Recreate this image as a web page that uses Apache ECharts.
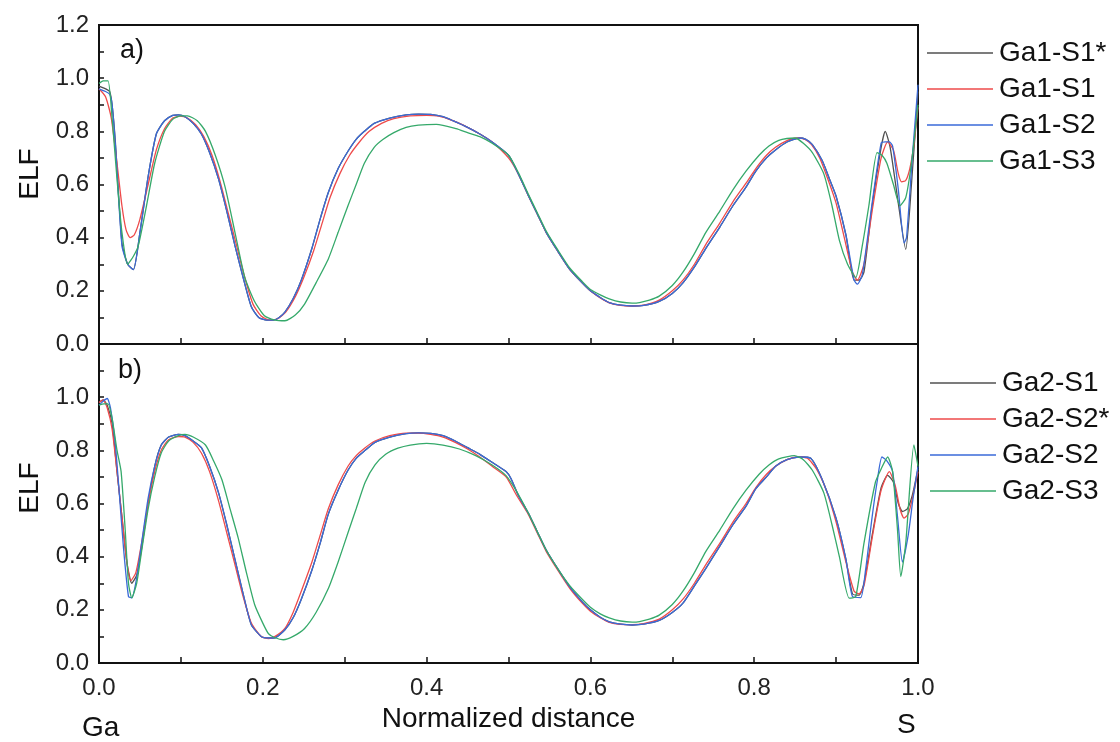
<!DOCTYPE html>
<html>
<head>
<meta charset="utf-8">
<script src="https://cdn.jsdelivr.net/npm/echarts@6/dist/echarts.min.js"></script>
<style>
  html, body { margin: 0; padding: 0; background: #fff; }
  #chart { width: 1120px; height: 742px; }
</style>
</head>
<body>
<div id="chart"></div>
<script>
// ELF profiles along the normalized Ga-S distance, panel a) and b)

const xTicks = [0, 0.2, 0.4, 0.6, 0.8, 1.0];
const namesTop = ['Ga1-S1*', 'Ga1-S1', 'Ga1-S2', 'Ga1-S3'];
const namesBottom = ['Ga2-S1', 'Ga2-S2*', 'Ga2-S2', 'Ga2-S3'];

// panel a)
const ga1S1star = [[0,0.97],[0.008,0.96],[0.013,0.95],[0.016,0.90],[0.02,0.76],[0.028,0.38],[0.035,0.30],[0.042,0.28],[0.05,0.42],[0.06,0.63],[0.07,0.79],[0.08,0.84],[0.09,0.86],[0.097,0.862],[0.105,0.855],[0.115,0.83],[0.125,0.79],[0.135,0.72],[0.146,0.62],[0.156,0.50],[0.166,0.37],[0.176,0.25],[0.186,0.14],[0.195,0.10],[0.205,0.09],[0.213,0.09],[0.22,0.10],[0.227,0.12],[0.237,0.17],[0.247,0.24],[0.26,0.36],[0.27,0.47],[0.28,0.57],[0.292,0.66],[0.304,0.725],[0.314,0.77],[0.324,0.80],[0.336,0.83],[0.355,0.85],[0.375,0.862],[0.39,0.865],[0.405,0.864],[0.42,0.855],[0.432,0.84],[0.45,0.815],[0.465,0.79],[0.48,0.76],[0.5,0.71],[0.512,0.64],[0.524,0.56],[0.535,0.49],[0.546,0.42],[0.56,0.35],[0.575,0.28],[0.59,0.23],[0.6,0.20],[0.612,0.175],[0.623,0.156],[0.637,0.146],[0.651,0.143],[0.665,0.145],[0.684,0.16],[0.7,0.19],[0.713,0.23],[0.727,0.29],[0.741,0.36],[0.758,0.44],[0.774,0.52],[0.79,0.59],[0.802,0.65],[0.815,0.70],[0.826,0.73],[0.84,0.76],[0.855,0.775],[0.863,0.77],[0.871,0.75],[0.883,0.69],[0.892,0.62],[0.9,0.556],[0.912,0.41],[0.922,0.24],[0.928,0.24],[0.934,0.27],[0.944,0.52],[0.955,0.74],[0.96,0.80],[0.966,0.74],[0.975,0.55],[0.985,0.356],[0.992,0.60],[1.0,0.95]];
const ga1S1 = [[0,0.96],[0.008,0.93],[0.015,0.85],[0.022,0.68],[0.028,0.52],[0.033,0.43],[0.038,0.40],[0.043,0.41],[0.05,0.47],[0.06,0.60],[0.07,0.73],[0.08,0.81],[0.09,0.85],[0.099,0.857],[0.108,0.85],[0.118,0.825],[0.128,0.78],[0.138,0.71],[0.148,0.61],[0.158,0.49],[0.168,0.37],[0.178,0.25],[0.188,0.15],[0.198,0.105],[0.208,0.09],[0.218,0.095],[0.228,0.12],[0.24,0.18],[0.25,0.25],[0.262,0.35],[0.272,0.45],[0.282,0.55],[0.294,0.64],[0.306,0.71],[0.318,0.76],[0.33,0.80],[0.345,0.83],[0.36,0.848],[0.38,0.858],[0.4,0.86],[0.415,0.857],[0.432,0.84],[0.45,0.815],[0.465,0.79],[0.48,0.76],[0.5,0.70],[0.512,0.64],[0.524,0.56],[0.535,0.49],[0.546,0.42],[0.56,0.35],[0.575,0.28],[0.59,0.23],[0.6,0.20],[0.612,0.173],[0.623,0.155],[0.637,0.145],[0.651,0.143],[0.665,0.146],[0.684,0.165],[0.7,0.20],[0.713,0.24],[0.727,0.30],[0.741,0.375],[0.758,0.455],[0.774,0.535],[0.79,0.605],[0.802,0.66],[0.815,0.71],[0.826,0.74],[0.84,0.765],[0.852,0.775],[0.862,0.77],[0.87,0.75],[0.88,0.70],[0.89,0.62],[0.9,0.53],[0.91,0.40],[0.92,0.27],[0.926,0.24],[0.934,0.30],[0.944,0.50],[0.955,0.70],[0.963,0.76],[0.97,0.73],[0.976,0.64],[0.98,0.61],[0.985,0.615],[0.99,0.66],[0.995,0.75],[1.0,0.89]];
const ga1S2 = [[0,0.96],[0.008,0.95],[0.013,0.94],[0.016,0.90],[0.02,0.75],[0.028,0.37],[0.035,0.30],[0.042,0.28],[0.05,0.42],[0.06,0.63],[0.07,0.79],[0.08,0.84],[0.09,0.86],[0.097,0.862],[0.105,0.855],[0.115,0.83],[0.125,0.79],[0.135,0.72],[0.146,0.62],[0.156,0.50],[0.166,0.37],[0.176,0.25],[0.186,0.14],[0.195,0.10],[0.205,0.09],[0.213,0.09],[0.22,0.10],[0.227,0.12],[0.237,0.17],[0.247,0.24],[0.26,0.36],[0.27,0.47],[0.28,0.57],[0.292,0.66],[0.304,0.725],[0.314,0.77],[0.324,0.80],[0.336,0.83],[0.355,0.85],[0.375,0.862],[0.39,0.865],[0.405,0.864],[0.42,0.855],[0.432,0.84],[0.45,0.815],[0.465,0.79],[0.48,0.76],[0.5,0.71],[0.512,0.64],[0.524,0.56],[0.535,0.49],[0.546,0.42],[0.56,0.35],[0.575,0.28],[0.59,0.23],[0.6,0.20],[0.612,0.175],[0.623,0.156],[0.637,0.146],[0.651,0.143],[0.665,0.145],[0.684,0.16],[0.7,0.19],[0.713,0.23],[0.727,0.29],[0.741,0.36],[0.758,0.44],[0.774,0.52],[0.79,0.59],[0.802,0.65],[0.815,0.70],[0.826,0.73],[0.84,0.76],[0.855,0.775],[0.863,0.77],[0.871,0.75],[0.883,0.69],[0.892,0.62],[0.9,0.556],[0.912,0.41],[0.922,0.24],[0.926,0.225],[0.932,0.26],[0.944,0.53],[0.955,0.756],[0.96,0.76],[0.965,0.76],[0.969,0.744],[0.976,0.58],[0.983,0.38],[0.986,0.40],[0.993,0.70],[1.0,0.975]];
const ga1S3 = [[0,0.98],[0.005,0.99],[0.011,0.99],[0.016,0.85],[0.022,0.62],[0.028,0.42],[0.035,0.30],[0.042,0.33],[0.048,0.37],[0.058,0.52],[0.068,0.68],[0.08,0.80],[0.09,0.845],[0.1,0.858],[0.108,0.858],[0.12,0.84],[0.13,0.80],[0.142,0.71],[0.154,0.59],[0.166,0.42],[0.178,0.25],[0.19,0.16],[0.202,0.106],[0.215,0.09],[0.227,0.0875],[0.24,0.11],[0.251,0.15],[0.265,0.23],[0.28,0.32],[0.292,0.42],[0.304,0.52],[0.314,0.60],[0.324,0.68],[0.336,0.74],[0.347,0.77],[0.36,0.795],[0.375,0.815],[0.39,0.823],[0.412,0.826],[0.436,0.81],[0.45,0.795],[0.465,0.78],[0.48,0.755],[0.5,0.71],[0.512,0.645],[0.524,0.565],[0.535,0.495],[0.546,0.425],[0.56,0.355],[0.575,0.285],[0.59,0.235],[0.6,0.205],[0.612,0.185],[0.623,0.17],[0.637,0.158],[0.651,0.154],[0.66,0.156],[0.672,0.165],[0.684,0.18],[0.7,0.22],[0.713,0.27],[0.727,0.34],[0.741,0.42],[0.758,0.50],[0.774,0.58],[0.79,0.65],[0.806,0.71],[0.818,0.745],[0.83,0.766],[0.84,0.773],[0.85,0.775],[0.86,0.755],[0.871,0.72],[0.885,0.64],[0.895,0.52],[0.904,0.39],[0.914,0.30],[0.924,0.25],[0.932,0.37],[0.94,0.52],[0.95,0.72],[0.956,0.71],[0.962,0.68],[0.97,0.60],[0.978,0.52],[0.985,0.55],[0.992,0.68],[1.0,0.90]];

// panel b)
const ga2S1 = [[0,0.98],[0.005,0.99],[0.01,0.97],[0.016,0.90],[0.022,0.72],[0.028,0.55],[0.034,0.38],[0.04,0.30],[0.046,0.33],[0.052,0.43],[0.06,0.60],[0.068,0.74],[0.076,0.82],[0.085,0.85],[0.097,0.86],[0.105,0.855],[0.115,0.835],[0.125,0.81],[0.135,0.74],[0.146,0.64],[0.156,0.52],[0.166,0.39],[0.176,0.26],[0.186,0.144],[0.198,0.10],[0.207,0.094],[0.215,0.095],[0.227,0.125],[0.237,0.17],[0.247,0.24],[0.26,0.35],[0.27,0.45],[0.28,0.56],[0.292,0.65],[0.304,0.725],[0.314,0.77],[0.325,0.80],[0.337,0.83],[0.355,0.85],[0.375,0.863],[0.39,0.866],[0.405,0.864],[0.42,0.855],[0.435,0.835],[0.45,0.81],[0.465,0.785],[0.48,0.755],[0.497,0.72],[0.503,0.694],[0.512,0.63],[0.524,0.565],[0.535,0.495],[0.546,0.425],[0.56,0.355],[0.575,0.285],[0.59,0.23],[0.6,0.20],[0.612,0.172],[0.623,0.155],[0.637,0.146],[0.651,0.143],[0.665,0.146],[0.684,0.16],[0.7,0.19],[0.713,0.225],[0.727,0.29],[0.741,0.356],[0.758,0.44],[0.774,0.52],[0.79,0.59],[0.802,0.656],[0.815,0.70],[0.826,0.74],[0.84,0.765],[0.855,0.775],[0.869,0.77],[0.883,0.69],[0.9,0.544],[0.912,0.39],[0.92,0.26],[0.928,0.255],[0.934,0.30],[0.944,0.48],[0.955,0.66],[0.963,0.706],[0.97,0.68],[0.976,0.60],[0.981,0.57],[0.987,0.58],[0.993,0.63],[1.0,0.73]];
const ga2S2star = [[0,0.98],[0.005,0.99],[0.01,0.96],[0.016,0.88],[0.022,0.72],[0.028,0.55],[0.034,0.38],[0.039,0.31],[0.045,0.34],[0.052,0.45],[0.06,0.60],[0.068,0.72],[0.076,0.80],[0.085,0.84],[0.097,0.852],[0.105,0.85],[0.115,0.83],[0.125,0.79],[0.135,0.72],[0.146,0.61],[0.156,0.49],[0.166,0.37],[0.176,0.25],[0.186,0.15],[0.198,0.10],[0.207,0.092],[0.215,0.10],[0.227,0.13],[0.237,0.19],[0.247,0.27],[0.26,0.38],[0.27,0.48],[0.28,0.58],[0.292,0.67],[0.304,0.74],[0.314,0.78],[0.325,0.81],[0.337,0.835],[0.355,0.855],[0.375,0.865],[0.39,0.865],[0.405,0.86],[0.42,0.85],[0.435,0.83],[0.45,0.805],[0.465,0.775],[0.48,0.74],[0.497,0.70],[0.51,0.63],[0.524,0.56],[0.535,0.49],[0.546,0.42],[0.56,0.35],[0.575,0.28],[0.59,0.225],[0.6,0.195],[0.612,0.17],[0.623,0.153],[0.637,0.145],[0.651,0.144],[0.665,0.148],[0.684,0.165],[0.7,0.20],[0.713,0.24],[0.727,0.30],[0.741,0.37],[0.758,0.45],[0.774,0.53],[0.79,0.60],[0.802,0.66],[0.815,0.71],[0.826,0.74],[0.84,0.765],[0.853,0.775],[0.865,0.77],[0.876,0.73],[0.888,0.65],[0.9,0.53],[0.912,0.38],[0.922,0.27],[0.928,0.26],[0.934,0.29],[0.944,0.47],[0.955,0.65],[0.965,0.72],[0.972,0.67],[0.978,0.58],[0.983,0.545],[0.988,0.56],[0.994,0.63],[1.0,0.72]];
const ga2S2 = [[0,0.97],[0.005,0.985],[0.01,0.995],[0.014,0.96],[0.02,0.82],[0.025,0.63],[0.03,0.43],[0.036,0.25],[0.04,0.245],[0.046,0.32],[0.052,0.45],[0.06,0.62],[0.068,0.74],[0.076,0.82],[0.085,0.85],[0.097,0.86],[0.105,0.855],[0.115,0.835],[0.125,0.81],[0.135,0.74],[0.146,0.64],[0.156,0.52],[0.166,0.39],[0.176,0.26],[0.186,0.144],[0.198,0.10],[0.207,0.094],[0.215,0.095],[0.227,0.125],[0.237,0.17],[0.247,0.24],[0.26,0.35],[0.27,0.45],[0.28,0.56],[0.292,0.65],[0.304,0.725],[0.314,0.77],[0.325,0.80],[0.337,0.83],[0.355,0.85],[0.375,0.863],[0.39,0.866],[0.405,0.864],[0.42,0.855],[0.435,0.835],[0.45,0.81],[0.465,0.785],[0.48,0.755],[0.497,0.72],[0.503,0.694],[0.512,0.63],[0.524,0.565],[0.535,0.495],[0.546,0.425],[0.56,0.355],[0.575,0.285],[0.59,0.23],[0.6,0.20],[0.612,0.172],[0.623,0.155],[0.637,0.146],[0.651,0.143],[0.665,0.146],[0.684,0.16],[0.7,0.19],[0.713,0.225],[0.727,0.29],[0.741,0.356],[0.758,0.44],[0.774,0.52],[0.79,0.59],[0.802,0.656],[0.815,0.70],[0.826,0.74],[0.84,0.765],[0.855,0.775],[0.869,0.77],[0.883,0.69],[0.9,0.544],[0.912,0.39],[0.92,0.25],[0.93,0.246],[0.936,0.35],[0.944,0.55],[0.95,0.68],[0.956,0.775],[0.962,0.76],[0.969,0.72],[0.975,0.55],[0.981,0.38],[0.988,0.48],[0.994,0.62],[1.0,0.74]];
const ga2S3 = [[0,0.97],[0.006,0.975],[0.011,0.975],[0.016,0.92],[0.022,0.80],[0.027,0.72],[0.032,0.50],[0.036,0.30],[0.04,0.245],[0.046,0.30],[0.052,0.42],[0.06,0.58],[0.068,0.70],[0.076,0.79],[0.085,0.835],[0.097,0.855],[0.105,0.86],[0.115,0.85],[0.13,0.82],[0.14,0.76],[0.15,0.69],[0.16,0.58],[0.17,0.47],[0.18,0.34],[0.19,0.22],[0.2,0.15],[0.207,0.11],[0.215,0.095],[0.225,0.0875],[0.237,0.10],[0.251,0.13],[0.265,0.19],[0.28,0.28],[0.292,0.38],[0.304,0.49],[0.314,0.58],[0.325,0.68],[0.337,0.745],[0.35,0.785],[0.365,0.808],[0.38,0.82],[0.4,0.826],[0.42,0.82],[0.44,0.805],[0.46,0.78],[0.48,0.745],[0.497,0.705],[0.51,0.645],[0.524,0.565],[0.535,0.495],[0.546,0.425],[0.56,0.355],[0.575,0.29],[0.59,0.24],[0.6,0.21],[0.612,0.185],[0.623,0.17],[0.637,0.158],[0.651,0.154],[0.66,0.156],[0.672,0.165],[0.684,0.18],[0.7,0.22],[0.713,0.27],[0.727,0.34],[0.741,0.42],[0.758,0.50],[0.774,0.58],[0.79,0.65],[0.806,0.71],[0.818,0.745],[0.83,0.768],[0.849,0.78],[0.86,0.765],[0.871,0.725],[0.885,0.64],[0.895,0.52],[0.904,0.40],[0.916,0.244],[0.924,0.25],[0.934,0.45],[0.948,0.68],[0.955,0.73],[0.963,0.775],[0.969,0.72],[0.975,0.50],[0.979,0.325],[0.985,0.45],[0.995,0.82],[1.0,0.74]];

const colors = ['#505050', '#ee4a4a', '#3a6ad8', '#35a96a'];
const FONT = 'Liberation Sans, Arial, sans-serif';

const chart = echarts.init(document.getElementById('chart'), null, { renderer: 'canvas' });

function xAxisFor(gridIndex, showLabels) {
    return {
        type: 'value',
        gridIndex: gridIndex,
        min: 0,
        max: 1,
        interval: 0.2,
        name: showLabels ? 'Normalized distance' : '',
        nameLocation: 'middle',
        nameGap: 42,
        nameTextStyle: { fontSize: 28, color: '#111', fontFamily: FONT },
        axisLine: { show: true, onZero: false, lineStyle: { color: '#111', width: 2 } },
        axisTick: { show: true, inside: true, length: 6, lineStyle: { color: '#111', width: 1.5 } },
        minorTick: { show: true, splitNumber: 2, length: 6, lineStyle: { color: '#111', width: 1.5 } },
        axisLabel: {
            show: showLabels,
            fontSize: 24,
            color: '#222',
            fontFamily: FONT,
            margin: 13,
            formatter: (v) => v.toFixed(1),
        },
        splitLine: { show: false },
    };
}

function yAxisFor(gridIndex, showTop) {
    return {
        type: 'value',
        gridIndex: gridIndex,
        min: 0,
        max: 1.2,
        interval: 0.2,
        axisLine: { show: true, lineStyle: { color: '#111', width: 2 } },
        axisTick: { show: true, inside: true, length: 5, lineStyle: { color: '#111', width: 1.5 } },
        minorTick: { show: true, splitNumber: 2, length: 5, lineStyle: { color: '#111', width: 1.5 } },
        axisLabel: {
            fontSize: 24,
            color: '#222',
            fontFamily: FONT,
            margin: 10,
            showMaxLabel: showTop,
            formatter: (v) => v.toFixed(1),
        },
        splitLine: { show: false },
    };
}

function lineSeries(name, data, idx, axisIdx) {
    return {
        name: name,
        type: 'line',
        xAxisIndex: axisIdx,
        yAxisIndex: axisIdx,
        data: data,
        symbol: 'none',
        smooth: 0.2,
        lineStyle: { color: colors[idx], width: 1.3 },
        itemStyle: { color: colors[idx] },
        z: 2 + idx,
    };
}

function legendFor(names, left, top) {
    return {
        data: names.map((n) => ({ name: n, icon: 'rect' })),
        orient: 'vertical',
        left: left,
        top: top,
        itemWidth: 66,
        itemHeight: 1.5,
        itemGap: 8,
        textStyle: { fontSize: 28, lineHeight: 28, color: '#111', fontFamily: FONT, padding: [0, 0, 0, 1] },
        selectedMode: false,
    };
}

function rotatedName(text, x, y) {
    return {
        type: 'text',
        x: x,
        y: y,
        rotation: Math.PI / 2,
        style: { text: text, fontSize: 28, fill: '#111', fontFamily: FONT, align: 'center', verticalAlign: 'middle' },
    };
}

const option = {
    animation: false,
    backgroundColor: '#ffffff',
    grid: [
        { left: 99, top: 25, width: 819, height: 319, show: true, borderColor: '#111', borderWidth: 2, containLabel: false },
        { left: 99, top: 344, width: 819, height: 319, show: true, borderColor: '#111', borderWidth: 2, containLabel: false },
    ],
    xAxis: [xAxisFor(0, false), xAxisFor(1, true)],
    yAxis: [yAxisFor(0, true), yAxisFor(1, false)],
    legend: [legendFor(namesTop, 922, 34), legendFor(namesBottom, 925, 364)],
    graphic: [
        rotatedName('ELF', 30, 174),
        rotatedName('ELF', 30, 488),
        { type: 'text', left: 120, top: 37, style: { text: 'a)', fontSize: 27, fill: '#111', fontFamily: FONT } },
        { type: 'text', left: 118, top: 357, style: { text: 'b)', fontSize: 27, fill: '#111', fontFamily: FONT } },
        { type: 'text', left: 82, top: 714, style: { text: 'Ga', fontSize: 28, fill: '#111', fontFamily: FONT } },
        { type: 'text', left: 897, top: 711, style: { text: 'S', fontSize: 28, fill: '#111', fontFamily: FONT } },
    ],
    series: [
        lineSeries(namesTop[0], ga1S1star, 0, 0),
        lineSeries(namesTop[1], ga1S1, 1, 0),
        lineSeries(namesTop[2], ga1S2, 2, 0),
        lineSeries(namesTop[3], ga1S3, 3, 0),
        lineSeries(namesBottom[0], ga2S1, 0, 1),
        lineSeries(namesBottom[1], ga2S2star, 1, 1),
        lineSeries(namesBottom[2], ga2S2, 2, 1),
        lineSeries(namesBottom[3], ga2S3, 3, 1),
    ],
};

chart.setOption(option);
</script>
</body>
</html>
